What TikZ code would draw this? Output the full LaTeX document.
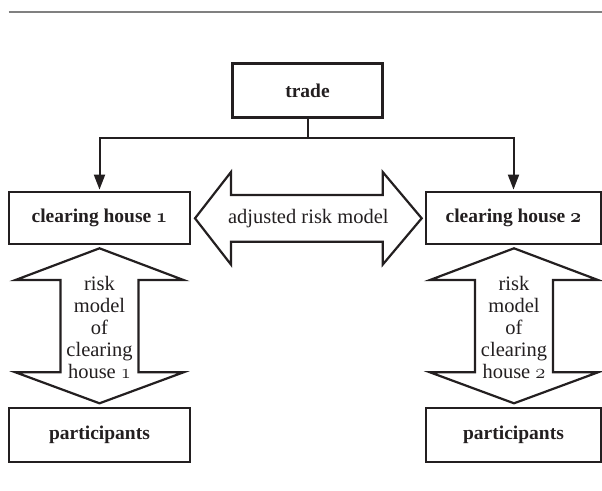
\RequirePackage{fix-cm}
\documentclass[tikz,border=0pt]{standalone}
\usepackage{fontspec}
\setmainfont{Liberation Serif}
\usetikzlibrary{arrows.meta}
\definecolor{ink}{HTML}{231F20}
\newcommand\osbold[1]{{\usefont{OML}{cmm}{b}{it}#1}}
\newcommand\osreg[1]{{\usefont{OML}{cmm}{m}{it}#1}}
\begin{document}
\begin{tikzpicture}[x=1pt,y=-1pt,
  box/.style={draw=ink,line width=2.2pt,inner sep=0pt,text=ink,font=\bfseries\fontsize{19.5}{22}\selectfont},
  conn/.style={draw=ink,line width=2pt,shorten >=1pt,-{Triangle[length=15pt,width=11pt]}},
  bigarrow/.style={draw=ink,line width=2.2pt,line join=miter,fill=white},
  lbl/.style={inner sep=0pt,align=center,text=ink,font=\fontsize{20.5}{22}\selectfont}]
\useasboundingbox (0,0) rectangle (602,490);
\draw[black!50,line width=2pt] (8.5,12) -- (602,12);
% boxes
\node[box,minimum width=150pt,minimum height=54pt] (trade) at (307.5,90.5) {trade};
\node[box,minimum width=181pt,minimum height=52.6pt] (ch1) at (99.5,218) {clearing house \osbold{1}};
\node[box,minimum width=175pt,minimum height=52.6pt] (ch2) at (513.5,218) {clearing house \osbold{2}};
\node[box,minimum width=181pt,minimum height=53.4pt] (p1) at (99.5,435) {participants};
\node[box,minimum width=175pt,minimum height=53.4pt] (p2) at (513.5,435) {participants};
% connectors
\coordinate (j) at (307.5,138.3);
\draw[conn] (trade.south) |- (ch1.north |- j) -- (ch1.north);
\draw[conn] (trade.south) |- (ch2.north |- j) -- (ch2.north);
% big double arrows
\draw[bigarrow] (195,218.3) -- (231,172) -- (231,195) -- (382.7,195) -- (382.7,172)
  -- (421.7,218.3) -- (382.7,264.6) -- (382.7,241.7) -- (231,241.7) -- (231,264.6) -- cycle;
\foreach \cx in {99.5,514}{
  \draw[bigarrow] (\cx,248.3) -- ++(84,31.7) -- ++(-45,0) -- ++(0,92.3) -- ++(45,0)
    -- (\cx,403.3) -- ++(-84,-31) -- ++(45,0) -- ++(0,-92.3) -- ++(-45,0) -- cycle;
}
% labels
\node[lbl] (adj) at (308.3,218.3) {adjusted risk model};
\node[lbl] (rm1) at (99.5,327) {risk\\model\\of\\clearing\\house \osreg{1}};
\node[lbl] (rm2) at (514,327) {risk\\model\\of\\clearing\\house \osreg{2}};
\end{tikzpicture}
\end{document}
